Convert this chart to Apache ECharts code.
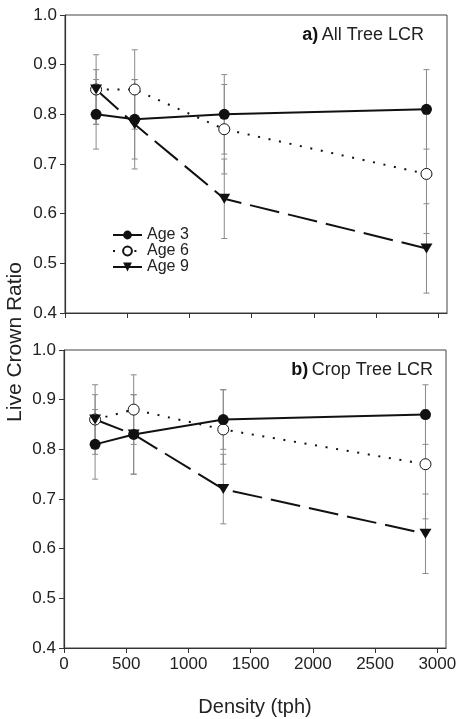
<!DOCTYPE html>
<html><head><meta charset="utf-8">
<script src="https://cdn.jsdelivr.net/npm/echarts@6/dist/echarts.min.js"></script>
<style>html,body{margin:0;padding:0;background:#fff}#c{width:462px;height:719px}</style>
</head><body><div id="c"></div>
<script>
const density = [250, 560, 1280, 2905];
const xTicks = [0, 500, 1000, 1500, 2000, 2500, 3000];
const seriesNames = ['Age 3', 'Age 6', 'Age 9'];
// panel a) All Tree LCR
const age3A = [0.80, 0.79, 0.80, 0.81];
const age3A_lo = [0.73, 0.71, 0.72, 0.73];
const age3A_hi = [0.87, 0.87, 0.86, 0.89];
const age6A = [0.85, 0.85, 0.77, 0.68];
const age6A_lo = [0.78, 0.77, 0.68, 0.56];
const age6A_hi = [0.92, 0.93, 0.88, 0.80];
const age9A = [0.85, 0.78, 0.63, 0.53];
const age9A_lo = [0.78, 0.69, 0.55, 0.44];
const age9A_hi = [0.89, 0.87, 0.71, 0.62];
// panel b) Crop Tree LCR
const age3B = [0.81, 0.83, 0.86, 0.87];
const age3B_lo = [0.74, 0.75, 0.80, 0.81];
const age3B_hi = [0.88, 0.91, 0.92, 0.93];
const age6B = [0.86, 0.88, 0.84, 0.77];
const age6B_lo = [0.79, 0.81, 0.77, 0.66];
const age6B_hi = [0.93, 0.95, 0.92, 0.88];
const age9B = [0.86, 0.83, 0.72, 0.63];
const age9B_lo = [0.81, 0.75, 0.65, 0.55];
const age9B_hi = [0.91, 0.91, 0.79, 0.71];

const FONT = '"Liberation Sans", Arial, Helvetica, sans-serif';
const INK = '#111';
const ERR = '#8a8a8a';

function pts(vals) { return density.map((d, i) => [d, vals[i]]); }
function errs(lo, hi) { return density.map((d, i) => [d, lo[i], hi[i]]); }

function errRender(params, api) {
  const x = api.value(0), lo = api.value(1), hi = api.value(2);
  const a = api.coord([x, hi]), b = api.coord([x, lo]);
  const w = 3;
  const st = { stroke: ERR, lineWidth: 1 };
  return { type: 'group', children: [
    { type: 'line', shape: { x1: a[0], y1: a[1], x2: b[0], y2: b[1] }, style: st },
    { type: 'line', shape: { x1: a[0] - w, y1: a[1], x2: a[0] + w, y2: a[1] }, style: st },
    { type: 'line', shape: { x1: b[0] - w, y1: b[1], x2: b[0] + w, y2: b[1] }, style: st }
  ]};
}

const styles = [
  { symbol: 'circle', symbolSize: 11, symbolRotate: 0, itemStyle: { color: INK }, lineStyle: { color: INK, width: 2, type: 'solid' } },
  { symbol: 'circle', symbolSize: 11, symbolRotate: 0, itemStyle: { color: '#fff', borderColor: INK, borderWidth: 1 }, lineStyle: { color: INK, width: 2, type: [2, 8.7] } },
  { symbol: 'triangle', symbolSize: [12, 10], symbolRotate: 180, itemStyle: { color: INK }, lineStyle: { color: INK, width: 2, type: [30, 9] } }
];

const panels = [
  { vals: [age3A, age6A, age9A], lo: [age3A_lo, age6A_lo, age9A_lo], hi: [age3A_hi, age6A_hi, age9A_hi] },
  { vals: [age3B, age6B, age9B], lo: [age3B_lo, age6B_lo, age9B_lo], hi: [age3B_hi, age6B_hi, age9B_hi] }
];

const series = [];
panels.forEach((p, gi) => {
  for (let k = 0; k < 3; k++) {
    series.push({ type: 'custom', xAxisIndex: gi, yAxisIndex: gi, renderItem: errRender,
      data: errs(p.lo[k], p.hi[k]), encode: { x: 0, y: [1, 2] }, z: 1, silent: true });
  }
  for (let k = 0; k < 3; k++) {
    const s = styles[k];
    series.push(Object.assign({ type: 'line', name: seriesNames[k], xAxisIndex: gi, yAxisIndex: gi,
      data: pts(p.vals[k]), z: 3 + (k === 0 ? 1 : 0), animation: false }, JSON.parse(JSON.stringify(s))));
  }
});

function xAxis(gi, showLabels) {
  return {
    type: 'value', gridIndex: gi, min: 0, max: 3070,
    axisLine: { show: true, onZero: false, lineStyle: { color: '#333', width: 1.2 } },
    axisTick: { show: true, inside: false, length: 5, lineStyle: { color: '#333' }, customValues: xTicks },
    axisLabel: { show: showLabels, customValues: xTicks, fontFamily: FONT, fontSize: 17, color: '#222', margin: 8,
      formatter: v => String(Math.round(v)) },
    splitLine: { show: false },
    name: showLabels ? 'Density (tph)' : '', nameLocation: 'middle', nameGap: 49,
    nameTextStyle: { fontFamily: FONT, fontSize: 20, color: '#222' }
  };
}
function yAxis(gi) {
  return {
    type: 'value', gridIndex: gi, min: 0.4, max: 1.0, interval: 0.1,
    axisLine: { show: true, onZero: false, lineStyle: { color: '#333', width: 1.2 } },
    axisTick: { show: true, inside: false, length: 5, lineStyle: { color: '#333' } },
    axisLabel: { fontFamily: FONT, fontSize: 17, color: '#222', margin: 8, formatter: v => v.toFixed(1) },
    splitLine: { show: false }
  };
}

const option = {
  animation: false,
  backgroundColor: '#fff',
  grid: [
    { left: 65, width: 382, top: 15, height: 298, show: true, borderColor: '#444', borderWidth: 1 },
    { left: 64, width: 382, top: 350, height: 298, show: true, borderColor: '#444', borderWidth: 1 }
  ],
  xAxis: [xAxis(0, false), xAxis(1, true)],
  yAxis: [yAxis(0), yAxis(1)],
  legend: {
    data: seriesNames, orient: 'vertical', left: 112, top: 227,
    itemWidth: 29, itemHeight: 11, itemGap: 0, padding: 0,
    textStyle: { fontFamily: FONT, fontSize: 16, color: '#222', lineHeight: 15.5 },
    selectedMode: false
  },
  graphic: [
    { type: 'text', x: 424, y: 35, style: { text: '{b|a)} {n|All Tree LCR}', align: 'right', verticalAlign: 'middle',
      rich: { b: { fontFamily: FONT, fontSize: 18, fontWeight: 'bold', fill: '#111' }, n: { fontFamily: FONT, fontSize: 18, fill: '#222' } } } },
    { type: 'text', x: 433, y: 370, style: { text: '{b|b)} {n|Crop Tree LCR}', align: 'right', verticalAlign: 'middle',
      rich: { b: { fontFamily: FONT, fontSize: 18, fontWeight: 'bold', fill: '#111' }, n: { fontFamily: FONT, fontSize: 18, fill: '#222' } } } },
    { type: 'text', x: 15, y: 342, rotation: Math.PI / 2, style: { text: 'Live Crown Ratio', align: 'center', verticalAlign: 'middle',
      font: '21px ' + FONT, fill: '#222' } }
  ],
  series: series
};
const chart = echarts.init(document.getElementById('c'), null, { renderer: 'canvas' });
chart.setOption(option);
</script></body></html>
